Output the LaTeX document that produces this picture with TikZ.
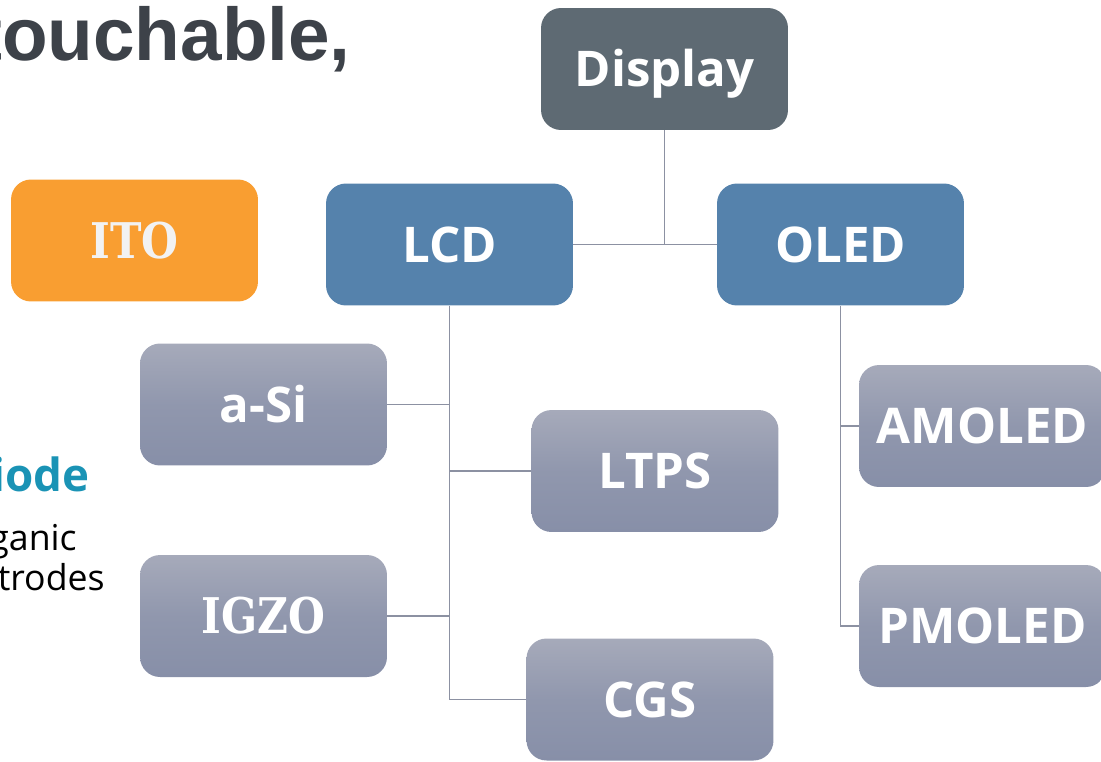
\documentclass[tikz,border=0pt]{standalone}
\usepackage{fontspec}
\newfontfamily\osans{Open Sans}
\newfontfamily\arialf{Liberation Sans}
\newfontfamily\slabf[FakeStretch=0.86]{DejaVu Serif}
\definecolor{titlec}{HTML}{3D4249}
\definecolor{dispc}{HTML}{5E6A73}
\definecolor{bluec}{HTML}{5582AC}
\definecolor{orangec}{HTML}{F99E31}
\definecolor{graytop}{HTML}{A6AABA}
\definecolor{graybot}{HTML}{878FA8}
\definecolor{linec}{HTML}{8C91A2}
\definecolor{tealc}{HTML}{1A93B5}
\definecolor{itotext}{HTML}{F2F2F2}
\tikzset{
  boxbase/.style={rectangle, rounded corners=0.4cm, minimum width=4.94cm, minimum height=2.44cm, inner sep=0pt, text height=20pt, text depth=0pt, text=white, font=\osans\bfseries\fontsize{28}{32}\selectfont},
  topbox/.style={boxbase, fill=dispc},
  midbox/.style={boxbase, fill=bluec},
  slabtext/.style={font=\slabf\bfseries\fontsize{28}{32}\selectfont, text height=20.4pt},
  itobox/.style={boxbase, fill=orangec, text=itotext, slabtext},
  leafbox/.style={boxbase, top color=graytop, bottom color=graybot, middle color=graybot!70!graytop},
  conn/.style={draw=linec, line width=0.8pt},
  bodytext/.style={anchor=base east, inner sep=0pt, text=black, font=\osans\fontsize{20.3}{24}\selectfont},
}
\begin{document}
\begin{tikzpicture}[x=0.02cm, y=-0.02cm]
\useasboundingbox (0,0) rectangle (1101,761);
\clip (0,0) rectangle (1101,761);
% title fragment
\node[anchor=base east, inner sep=0pt, text=titlec, font=\arialf\bfseries\fontsize{42.5}{50}\selectfont] (title) at (351,60) {touchable,};
% left texts
\node[anchor=base east, inner sep=0pt, text=tealc, font=\osans\bfseries\fontsize{26}{30}\selectfont] (diode) at (90,491) {iode};
\node[bodytext] (ganic) at (77,550) {ganic};
\node[bodytext] (trodes) at (105,590) {trodes};
% boxes
\node[itobox] (ito) at (134.5,240.5) {ITO};
\node[topbox] (disp) at (664.5,69) {Display};
\node[midbox] (lcd) at (449.5,244.5) {LCD};
\node[midbox] (oled) at (840.5,244.5) {OLED};
\node[leafbox] (asi) at (263.5,404.5) {a-Si};
\node[leafbox] (ltps) at (655,471) {LTPS};
\node[leafbox, slabtext] (igzo) at (263.5,616) {IGZO};
\node[leafbox] (cgs) at (650,699.5) {CGS};
\node[leafbox] (amoled) at (982.5,426) {AMOLED};
\node[leafbox] (pmoled) at (982.5,626) {PMOLED};
% connectors
\draw[conn] (disp.south) |- (lcd.east);
\draw[conn] (disp.south) |- (oled.west);
\draw[conn] (lcd.south) |- (asi.east);
\draw[conn] (lcd.south) |- (ltps.west);
\draw[conn] (lcd.south) |- (igzo.east);
\draw[conn] (lcd.south) |- (cgs.west);
\draw[conn] (oled.south) |- (amoled.west);
\draw[conn] (oled.south) |- (pmoled.west);
\end{tikzpicture}
\end{document}
